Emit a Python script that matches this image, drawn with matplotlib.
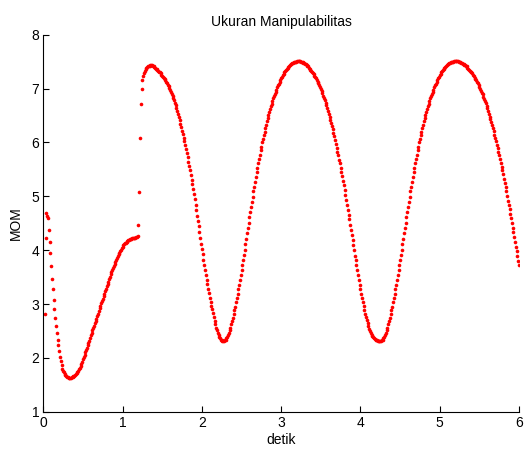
import matplotlib
matplotlib.use("Agg")
import matplotlib.pyplot as plt
import numpy as np

# MOM readings (sampled every 0.01 s), split into segments by start time
DT = 0.01
transient_t0 = 0.02
transient = [2.81, 4.23, 4.69, 4.64, 4.59, 4.37, 4.16, 3.94, 3.70, 3.47,
             3.27, 3.07, 2.91, 2.74, 2.60, 2.46, 2.34, 2.23]

rise1_t0 = 0.20
rise1 = [2.12, 2.02, 1.94, 1.86, 1.80, 1.76, 1.73, 1.70, 1.68, 1.66,
         1.65, 1.64, 1.63, 1.63, 1.63, 1.63, 1.64, 1.65, 1.66, 1.67,
         1.69, 1.70, 1.72, 1.74, 1.76, 1.79, 1.82, 1.85, 1.89, 1.93,
         1.97, 2.01, 2.05, 2.10, 2.14, 2.19, 2.23, 2.28, 2.32, 2.37,
         2.42, 2.46, 2.51, 2.55, 2.60, 2.64, 2.68, 2.73, 2.78, 2.82,
         2.87, 2.92, 2.96, 3.01, 3.06, 3.10, 3.15, 3.19, 3.24, 3.28,
         3.33, 3.37, 3.41, 3.46, 3.50, 3.55, 3.59, 3.63, 3.67, 3.71,
         3.74, 3.78, 3.82, 3.85, 3.89, 3.92, 3.95, 3.98, 4.01, 4.04,
         4.06, 4.09, 4.11, 4.13, 4.14, 4.16, 4.17, 4.18, 4.19, 4.20,
         4.21, 4.21, 4.22, 4.22, 4.23, 4.23, 4.23, 4.24, 4.25, 4.27]

jump_t0 = 1.20
jump = [4.46, 5.08, 6.08, 6.72, 7.00, 7.15, 7.24, 7.29, 7.33, 7.36,
        7.38, 7.40, 7.41, 7.42, 7.42, 7.43]

fall1_t0 = 1.36
fall1 = [7.43, 7.43, 7.42, 7.41, 7.40, 7.38, 7.37, 7.36, 7.34, 7.33,
         7.31, 7.30, 7.28, 7.26, 7.24, 7.22, 7.20, 7.18, 7.16, 7.13,
         7.10, 7.07, 7.04, 7.01, 6.97, 6.94, 6.90, 6.86, 6.82, 6.78,
         6.74, 6.69, 6.64, 6.59, 6.53, 6.47, 6.41, 6.35, 6.28, 6.22,
         6.15, 6.08, 6.02, 5.95, 5.87, 5.80, 5.72, 5.64, 5.56, 5.48,
         5.39, 5.31, 5.22, 5.13, 5.04, 4.94, 4.84, 4.74, 4.64, 4.54,
         4.44, 4.33, 4.23, 4.12, 4.02, 3.92, 3.82, 3.72, 3.63, 3.54,
         3.45, 3.37, 3.28, 3.20, 3.12, 3.04, 2.97, 2.90, 2.83, 2.76,
         2.69, 2.62, 2.56, 2.51, 2.46, 2.42, 2.39, 2.36, 2.34, 2.33,
         2.32, 2.32, 2.32]

rise2_t0 = 2.29
rise2 = [2.33, 2.34, 2.36, 2.39, 2.42, 2.46, 2.51, 2.56, 2.62, 2.68,
         2.74, 2.81, 2.88, 2.95, 3.03, 3.11, 3.19, 3.27, 3.36, 3.45,
         3.54, 3.63, 3.72, 3.81, 3.91, 4.01, 4.11, 4.21, 4.31, 4.41,
         4.51, 4.61, 4.70, 4.80, 4.90, 4.99, 5.09, 5.18, 5.27, 5.36,
         5.45, 5.53, 5.61, 5.69, 5.77, 5.85, 5.92, 6.00, 6.07, 6.14,
         6.20, 6.27, 6.33, 6.39, 6.45, 6.51, 6.57, 6.62, 6.67, 6.72,
         6.77, 6.82, 6.86, 6.90, 6.94, 6.98, 7.02, 7.06, 7.09, 7.13,
         7.16, 7.19, 7.22, 7.25, 7.27, 7.30, 7.32, 7.35, 7.37, 7.39,
         7.40, 7.42, 7.43, 7.45, 7.46, 7.47, 7.48, 7.49, 7.49, 7.50,
         7.50, 7.51, 7.51, 7.51, 7.51]

fall2_t0 = 3.24
fall2 = [7.51, 7.50, 7.50, 7.49, 7.48, 7.47, 7.46, 7.45, 7.44, 7.42,
         7.41, 7.39, 7.37, 7.35, 7.33, 7.31, 7.29, 7.27, 7.24, 7.21,
         7.19, 7.16, 7.13, 7.10, 7.06, 7.03, 6.99, 6.95, 6.91, 6.87,
         6.83, 6.78, 6.74, 6.69, 6.64, 6.59, 6.53, 6.48, 6.42, 6.36,
         6.30, 6.24, 6.17, 6.11, 6.04, 5.97, 5.90, 5.83, 5.76, 5.68,
         5.61, 5.53, 5.45, 5.37, 5.28, 5.20, 5.11, 5.02, 4.93, 4.84,
         4.75, 4.66, 4.57, 4.47, 4.38, 4.28, 4.19, 4.09, 4.00, 3.90,
         3.81, 3.72, 3.63, 3.54, 3.45, 3.36, 3.28, 3.19, 3.11, 3.03,
         2.96, 2.89, 2.82, 2.76, 2.70, 2.64, 2.59, 2.54, 2.50, 2.46,
         2.43, 2.40, 2.38, 2.36, 2.35, 2.34, 2.33, 2.33, 2.32, 2.32,
         2.32, 2.32, 2.32]

rise3_t0 = 4.27
rise3 = [2.33, 2.34, 2.36, 2.39, 2.42, 2.46, 2.51, 2.56, 2.62, 2.68,
         2.74, 2.81, 2.88, 2.95, 3.03, 3.11, 3.19, 3.27, 3.36, 3.45,
         3.54, 3.63, 3.72, 3.81, 3.91, 4.01, 4.11, 4.21, 4.31, 4.41,
         4.51, 4.61, 4.70, 4.80, 4.90, 4.99, 5.09, 5.18, 5.27, 5.36,
         5.45, 5.53, 5.61, 5.69, 5.77, 5.85, 5.92, 6.00, 6.07, 6.14,
         6.20, 6.27, 6.33, 6.39, 6.45, 6.51, 6.57, 6.62, 6.67, 6.72,
         6.77, 6.82, 6.86, 6.90, 6.94, 6.98, 7.02, 7.06, 7.09, 7.13,
         7.16, 7.19, 7.22, 7.25, 7.27, 7.30, 7.32, 7.35, 7.37, 7.39,
         7.40, 7.42, 7.43, 7.45, 7.46, 7.47, 7.48, 7.49, 7.49, 7.50,
         7.50, 7.51, 7.51, 7.51, 7.51, 7.51]

fall3_t0 = 5.23
fall3 = [7.51, 7.50, 7.50, 7.49, 7.48, 7.47, 7.46, 7.45, 7.44, 7.43,
         7.42, 7.41, 7.39, 7.37, 7.35, 7.33, 7.31, 7.30, 7.28, 7.26,
         7.23, 7.20, 7.18, 7.15, 7.13, 7.10, 7.06, 7.03, 7.00, 6.96,
         6.92, 6.89, 6.85, 6.81, 6.77, 6.73, 6.68, 6.63, 6.59, 6.53,
         6.48, 6.43, 6.38, 6.32, 6.26, 6.21, 6.14, 6.09, 6.02, 5.96,
         5.89, 5.83, 5.76, 5.69, 5.62, 5.55, 5.48, 5.41, 5.32, 5.25,
         5.17, 5.09, 5.01, 4.92, 4.84, 4.76, 4.67, 4.59, 4.50, 4.41,
         4.33, 4.24, 4.15, 4.06, 3.98, 3.89, 3.80, 3.72]

SEGMENTS = [(transient_t0, transient), (rise1_t0, rise1), (jump_t0, jump),
            (fall1_t0, fall1), (rise2_t0, rise2), (fall2_t0, fall2),
            (rise3_t0, rise3), (fall3_t0, fall3)]

X_TICKS = [0, 1, 2, 3, 4, 5, 6]
Y_TICKS = [1, 2, 3, 4, 5, 6, 7, 8]

plt.rcParams["font.family"] = ["Liberation Sans", "DejaVu Sans"]

t_all, mom_all = [], []
for t0, vals in SEGMENTS:
    t_all.append(t0 + DT * np.arange(len(vals)))
    mom_all.append(np.asarray(vals))
t_all = np.concatenate(t_all)
mom_all = np.concatenate(mom_all)

fig = plt.figure(figsize=(5.28, 4.5), dpi=100)
ax = fig.add_axes([0.082, 0.085, 0.901, 0.838])

ax.plot(t_all, mom_all, linestyle="none", marker="o", ms=2.6,
        mec="none", color="#ff0000")

ax.set_xlim(0, 6)
ax.set_ylim(1, 8)
ax.set_xticks(X_TICKS)
ax.set_yticks(Y_TICKS)
ax.spines["top"].set_visible(False)
ax.spines["right"].set_visible(False)
ax.tick_params(direction="in", length=4, width=0.8, labelsize=10, pad=3)
ax.set_title("Ukuran Manipulabilitas", fontsize=10, pad=6)
ax.set_xlabel("detik", fontsize=10, labelpad=2)
ax.set_ylabel("MOM", fontsize=10, labelpad=6)

fig.savefig("out.png", dpi=100, facecolor="white")
